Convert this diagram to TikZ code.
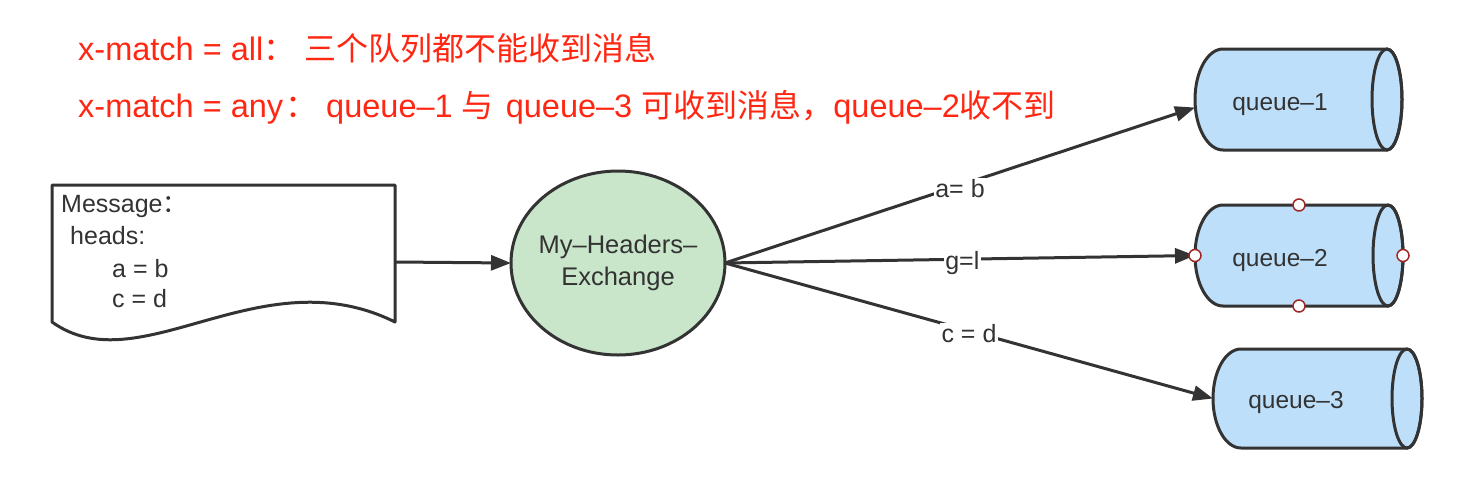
\documentclass[tikz,border=0pt]{standalone}
\usepackage{fontspec}
\setmainfont{Liberation Sans}
\newfontfamily\cjk{Noto Sans CJK SC}
\usetikzlibrary{arrows.meta,calc,shapes.geometric}
\definecolor{ink}{RGB}{51,51,51}
\definecolor{qblue}{RGB}{189,223,250}
\definecolor{exgreen}{RGB}{201,230,203}
\definecolor{titlered}{RGB}{255,38,18}
\definecolor{portred}{RGB}{160,40,40}
\newcommand{\tc}[1]{{\cjk\fontsize{32}{36}\selectfont #1}}
\begin{document}
\begin{tikzpicture}[x=1pt,y=1pt,
  conn/.style={draw=ink, line width=3pt, -{Triangle[length=20pt,width=15pt]}},
  lbl/.style={fill=white, text=ink, font=\fontsize{25}{28}\selectfont, inner sep=1.5pt},
  txt/.style={text=ink, font=\fontsize{25}{28}\selectfont, inner sep=0pt, anchor=base west},
  qtxt/.style={text=ink, font=\fontsize{24.5}{28}\selectfont, inner sep=0pt, anchor=base},
  ttl/.style={text=titlered, font=\fontsize{32.5}{36}\selectfont, anchor=base west, inner sep=0pt},
  qbody/.style={fill=qblue, draw=ink, line width=3pt, line join=round},
  qbox/.style={inner sep=0pt, outer sep=0pt},
  port/.style={circle, draw=portred, fill=white, line width=1.5pt, minimum size=12pt, inner sep=0pt},
]
\useasboundingbox (0,0) rectangle (1476,-496);

% titles
\node[ttl] (t1) at (78,-60) {x-match = all\tc{：\hspace{9pt}三个队列都不能收到消息}};
\node[ttl] (t2) at (78,-117) {x-match = any\hspace{2pt}\tc{：} queue–1 \tc{与}\hspace{3pt} queue–3 \tc{可收到消息，}queue–2\tc{收不到}};

% document shape
\path[fill=white, draw=ink, line width=3pt, line join=round] (52,-185) -- (395,-185) -- (395,-322) .. controls (260,-255) and (140,-385) .. (52,-322) -- cycle;
\node[qbox, minimum width=343pt, minimum height=154pt] (doc) at (223.5,-262) {};
\node[txt] (m1) at (61,-212) {Message{\cjk ：}};
\node[txt] (m2) at (70,-244) {heads:};
\node[txt] (m3) at (112,-277) {a = b};
\node[txt] (m4) at (112,-307) {c = d};

% exchange
\node[ellipse, draw=ink, fill=exgreen, line width=3pt, minimum width=214pt, minimum height=184pt, inner sep=0pt, outer sep=0pt] (ex) at (618,-263) {};
\node[align=center, text=ink, inner sep=0pt, font=\fontsize{25.5}{32}\selectfont] (ext) at (ex.center) {My–Headers–\\Exchange};

% queue 1
\path[qbody] (1387,-49) -- (1223,-49) arc[start angle=90,end angle=270,x radius=28,y radius=50.5] -- (1387,-150) arc[start angle=-90,end angle=90,x radius=15,y radius=50.5] -- cycle;
\draw[ink, line width=3pt] (1387,-99.5) ellipse[x radius=15,y radius=50.5];
\node[qbox, minimum width=207pt, minimum height=101pt] (q1) at (1298.5,-99.5) {};
\node[qtxt] (q1t) at (1280,-110) {queue–1};

% queue 2
\path[qbody] (1388,-205) -- (1223,-205) arc[start angle=90,end angle=270,x radius=28,y radius=50.5] -- (1388,-306) arc[start angle=-90,end angle=90,x radius=15,y radius=50.5] -- cycle;
\draw[ink, line width=3pt] (1388,-255.5) ellipse[x radius=15,y radius=50.5];
\node[qbox, minimum width=208pt, minimum height=101pt] (q2) at (1299,-255.5) {};
\node[qtxt] (q2t) at (1280,-266) {queue–2};

% queue 3
\path[qbody] (1407,-349) -- (1241,-349) arc[start angle=90,end angle=270,x radius=28,y radius=49.5] -- (1407,-448) arc[start angle=-90,end angle=90,x radius=15,y radius=49.5] -- cycle;
\draw[ink, line width=3pt] (1407,-398.5) ellipse[x radius=15,y radius=49.5];
\node[qbox, minimum width=209pt, minimum height=99pt] (q3) at (1317.5,-398.5) {};
\node[qtxt] (q3t) at (1296,-408) {queue–3};

% connectors
\draw[conn] (doc.east) -- (ex.west);
\draw[conn] (ex.east) -- node[lbl, pos=0.5, yshift=-3pt] (l1) {a= b} ($(q1.west)+(0,-8)$);
\draw[conn] (ex.east) -- node[lbl, pos=0.505, yshift=-4pt] (l2) {g=l} (q2.west);
\draw[conn] (ex.east) -- node[lbl, pos=0.5, yshift=-3pt] (l3) {c = d} (q3.west);

% ports on queue 2
\node[port] (p1) at (q2.north) {};
\node[port] (p2) at (q2.south) {};
\node[port] (p3) at (q2.west) {};
\node[port] (p4) at (q2.east) {};
\end{tikzpicture}
\end{document}
